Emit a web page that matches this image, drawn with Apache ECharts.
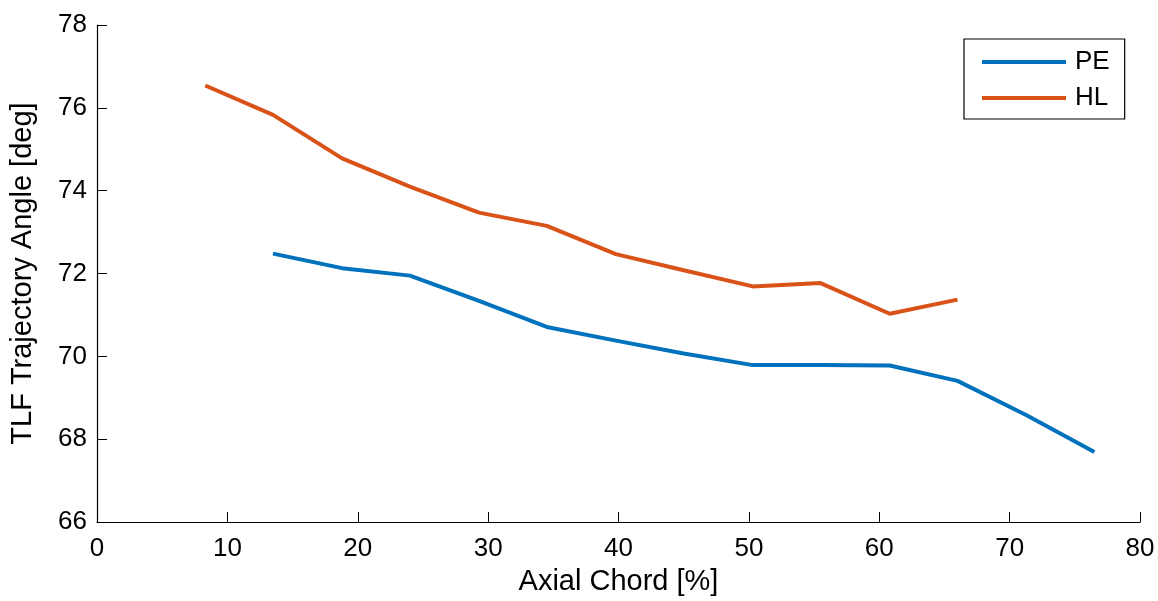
<!DOCTYPE html>
<html>
<head>
<meta charset="utf-8">
<script src="https://cdn.jsdelivr.net/npm/echarts@6/dist/echarts.min.js"></script>
<style>
  html, body { margin: 0; padding: 0; background: #fff; }
  #chart { width: 1158px; height: 601px; }
</style>
</head>
<body>
<div id="chart"></div>
<script>
// Axial chord position [%] and TLF trajectory angle [deg] for each case
const peChord = [13.5, 18.8, 24.0, 29.3, 34.5, 39.8, 45.0, 50.3, 55.5, 60.8, 66.0, 71.3, 76.5];
const peAngle = [72.48, 72.13, 71.95, 71.34, 70.71, 70.38, 70.07, 69.79, 69.79, 69.78, 69.41, 68.58, 67.69];

const hlChord = [8.3, 13.5, 18.8, 24.0, 29.3, 34.5, 39.8, 45.0, 50.3, 55.5, 60.8, 66.0];
const hlAngle = [76.54, 75.83, 74.78, 74.10, 73.47, 73.15, 72.47, 72.08, 71.69, 71.77, 71.03, 71.37];

const seriesNames = ['PE', 'HL'];
const xTitle = 'Axial Chord [%]';
const yTitle = 'TLF Trajectory Angle [deg]';

const FONT = '"Liberation Sans", Arial, Helvetica, sans-serif';
const TICK_SIZE = 26;
const TITLE_SIZE = 29;
const pairs = (xs, ys) => xs.map((x, i) => [x, ys[i]]);

const chart = echarts.init(document.getElementById('chart'), null, { renderer: 'canvas' });

const axisCommon = {
  axisLine: { show: true, onZero: false, lineStyle: { color: '#000', width: 1.2 } },
  axisTick: { show: true, inside: true, length: 10, lineStyle: { color: '#000', width: 1 } },
  splitLine: { show: false },
  nameTextStyle: { color: '#000', fontFamily: FONT, fontSize: TITLE_SIZE },
  axisLabel: { color: '#000', fontFamily: FONT, fontSize: TICK_SIZE }
};

chart.setOption({
  animation: false,
  backgroundColor: '#fff',
  grid: { left: 93, right: 18, top: 25, bottom: 77, containLabel: false },
  xAxis: Object.assign({}, axisCommon, {
    type: 'value', min: 0, max: 80, interval: 10,
    name: xTitle, nameLocation: 'middle', nameGap: 40,
    axisLabel: Object.assign({}, axisCommon.axisLabel, { margin: 14 })
  }),
  yAxis: Object.assign({}, axisCommon, {
    type: 'value', min: 66, max: 78, interval: 2,
    name: yTitle, nameLocation: 'middle', nameGap: 60,
    axisLabel: Object.assign({}, axisCommon.axisLabel, { margin: 10 })
  }),
  legend: {
    data: seriesNames,
    orient: 'vertical',
    left: 964, top: 39,
    icon: 'rect',
    itemWidth: 84, itemHeight: 4,
    itemGap: 10,
    padding: [10, 15, 8, 18],
    borderColor: '#000', borderWidth: 1.2,
    backgroundColor: '#fff',
    textStyle: { color: '#000', fontFamily: FONT, fontSize: TICK_SIZE, lineHeight: 26, padding: [0, 0, 0, 4] }
  },
  series: [
    {
      name: seriesNames[0], type: 'line', data: pairs(peChord, peAngle),
      showSymbol: false, symbol: 'none',
      lineStyle: { color: '#0072BD', width: 4 }, itemStyle: { color: '#0072BD' }
    },
    {
      name: seriesNames[1], type: 'line', data: pairs(hlChord, hlAngle),
      showSymbol: false, symbol: 'none',
      lineStyle: { color: '#D95319', width: 4 }, itemStyle: { color: '#D95319' }
    }
  ]
});
</script>
</body>
</html>
